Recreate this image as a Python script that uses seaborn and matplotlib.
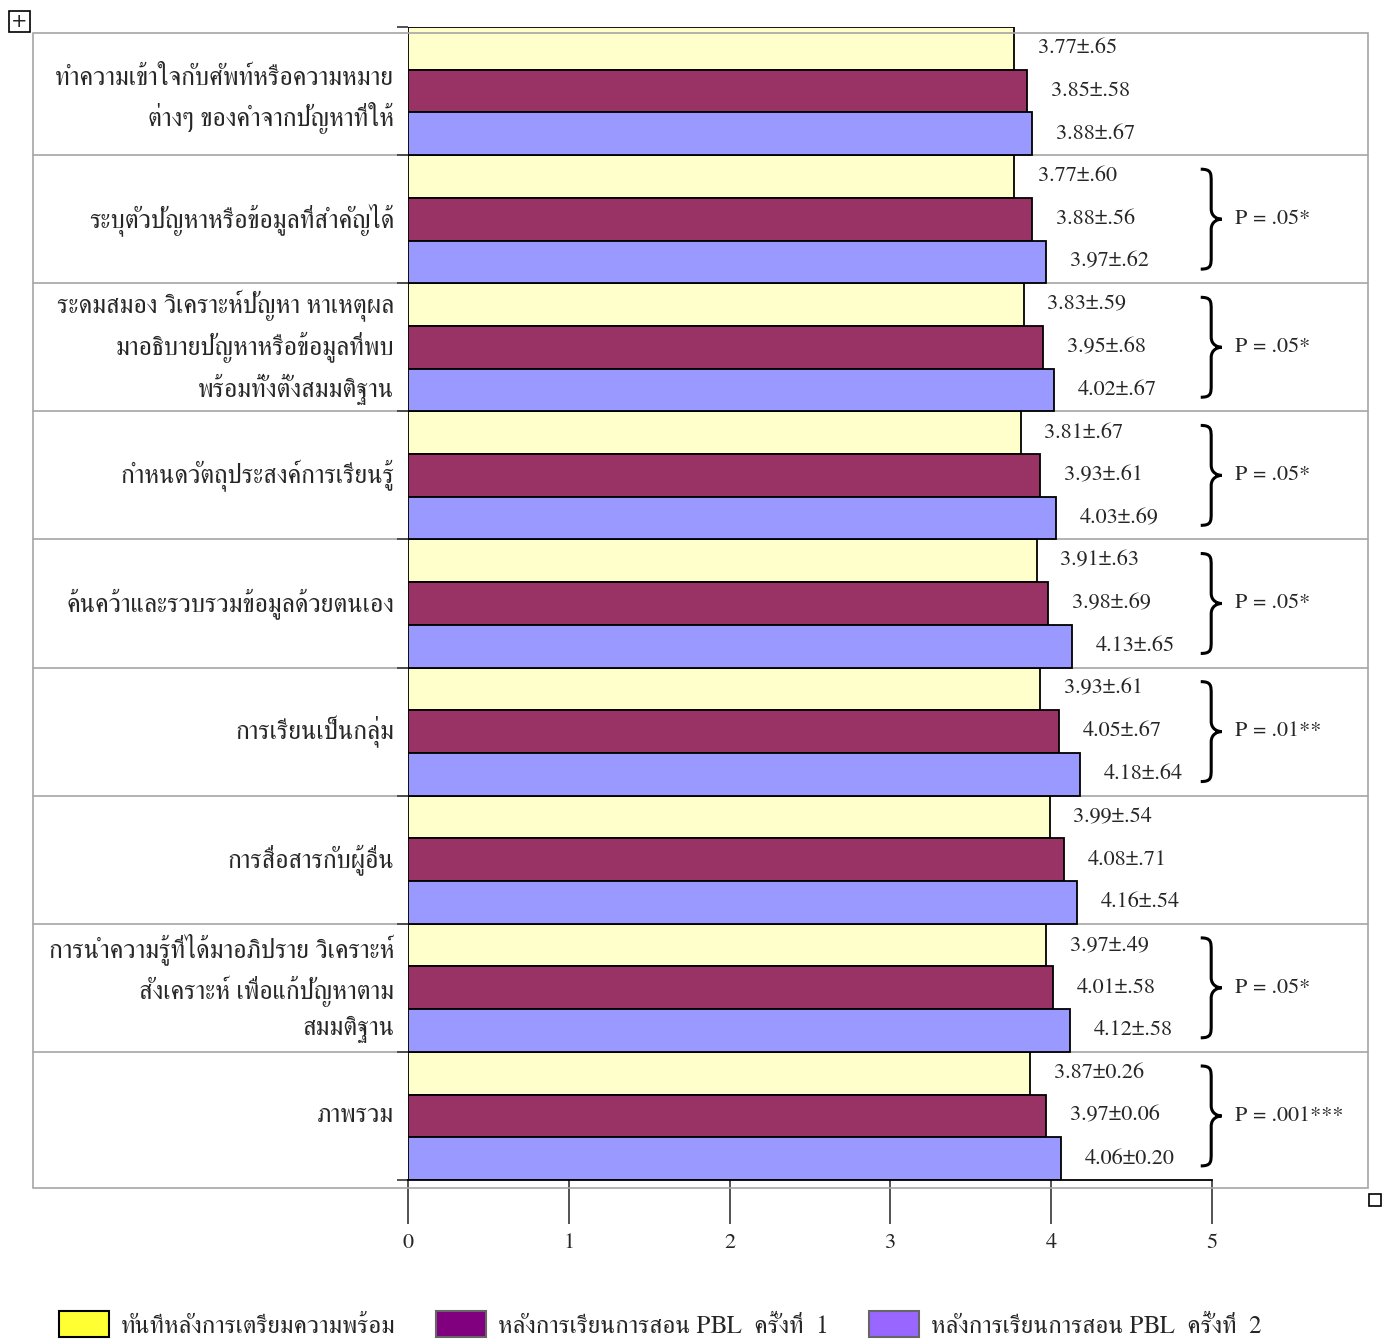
import matplotlib
matplotlib.use("Agg")
import matplotlib.pyplot as plt
from matplotlib.patches import Patch, Rectangle, PathPatch
from matplotlib.path import Path
from matplotlib.lines import Line2D
import matplotlib.transforms as mtransforms
import seaborn as sns
import pandas as pd

# ---- data ----
items = [
    "ทำความเข้าใจกับศัพท์หรือความหมาย\nต่างๆ ของคำจากปัญหาที่ให้",
    "ระบุตัวปัญหาหรือข้อมูลที่สำคัญได้",
    "ระดมสมอง วิเคราะห์ปัญหา หาเหตุผล\nมาอธิบายปัญหาหรือข้อมูลที่พบ\nพร้อมทั้งตั้งสมมติฐาน",
    "กำหนดวัตถุประสงค์การเรียนรู้",
    "ค้นคว้าและรวบรวมข้อมูลด้วยตนเอง",
    "การเรียนเป็นกลุ่ม",
    "การสื่อสารกับผู้อื่น",
    "การนำความรู้ที่ได้มาอภิปราย วิเคราะห์\nสังเคราะห์ เพื่อแก้ปัญหาตาม\nสมมติฐาน",
    "ภาพรวม",
]
series = [
    "ทันทีหลังการเตรียมความพร้อม",
    "หลังการเรียนการสอน PBL  ครั้งที่  1",
    "หลังการเรียนการสอน PBL  ครั้งที่  2",
]
mean_1 = [3.77, 3.77, 3.83, 3.81, 3.91, 3.93, 3.99, 3.97, 3.87]
mean_2 = [3.85, 3.88, 3.95, 3.93, 3.98, 4.05, 4.08, 4.01, 3.97]
mean_3 = [3.88, 3.97, 4.02, 4.03, 4.13, 4.18, 4.16, 4.12, 4.06]
sd_1 = [".65", ".60", ".59", ".67", ".63", ".61", ".54", ".49", "0.26"]
sd_2 = [".58", ".56", ".68", ".61", ".69", ".67", ".71", ".58", "0.06"]
sd_3 = [".67", ".62", ".67", ".69", ".65", ".64", ".54", ".58", "0.20"]
p_labels = [None, "P = .05*", "P = .05*", "P = .05*", "P = .05*", "P = .01**",
            None, "P = .05*", "P = .001***"]

sns.set_theme(style="white")
plt.rcParams["font.family"] = ["FreeSerif", "Noto Serif Thai", "DejaVu Sans"]

df = pd.DataFrame({
    "item": items * 3,
    "mean": mean_1 + mean_2 + mean_3,
    "series": [s for s in series for _ in items],
})

bar_colors = ["#FFFFCC", "#993366", "#9999FF"]
legend_colors = ["#FFFF33", "#800080", "#9966FF"]

W, H = 1388, 1340
fig = plt.figure(figsize=(W / 100, H / 100), dpi=100)
ax = fig.add_axes([408 / W, 1 - 1180 / H, 804 / W, 1153 / H])

sns.barplot(data=df, y="item", x="mean", hue="series", orient="h",
            palette=bar_colors, saturation=1, width=1.0, gap=0, edgecolor="black",
            linewidth=1.3, legend=False, ax=ax, zorder=2)

ax.set_xlim(0, 5)
ax.set_ylim(8.5, -0.5)
ax.set_xlabel("")
ax.set_ylabel("")
for s in ["top", "right", "left"]:
    ax.spines[s].set_visible(False)
ax.spines["bottom"].set_color("black")
ax.spines["bottom"].set_linewidth(1.3)
ax.set_xticks([0, 1, 2, 3, 4, 5])
ax.set_xticklabels(["0", "1", "2", "3", "4", "5"], fontsize=16)
ax.tick_params(axis="x", direction="out", length=32, width=1.3, color="#444444", pad=6,
               bottom=True)
ax.set_yticks(range(len(items)))
ax.set_yticklabels(items, fontsize=18.5, ha="right", va="center", linespacing=1.45)
ax.tick_params(axis="y", which="major", length=0, pad=10)
ax.set_yticks([k - 0.5 for k in range(len(items) + 1)], minor=True)
ax.tick_params(axis="y", which="minor", left=True, length=8, width=1.3, color="#444444")
# the two-line label sits a little low in the original
ax.get_yticklabels()[0].set_va("center_baseline")

# value labels
sd_all = [sd_1, sd_2, sd_3]
mean_all = [mean_1, mean_2, mean_3]
for j, cont in enumerate(ax.containers):
    labs = [f"{m:.2f}±{s}" for m, s in zip(mean_all[j], sd_all[j])]
    ax.bar_label(cont, labels=labs, padding=17, fontsize=16)

# table-like frame and row separators
bt = mtransforms.blended_transform_factory(fig.transFigure, ax.transData)
for k in range(len(items) - 1):
    ax.add_line(Line2D([33 / W, 1368 / W], [k + 0.5, k + 0.5], transform=bt,
                       color="#A6A6A6", lw=1.2, clip_on=False, zorder=0.5))
fig.add_artist(Rectangle((33 / W, 1 - 1188 / H), 1335 / W, 1155 / H, fill=False,
                         edgecolor="#A6A6A6", lw=1.2, transform=fig.transFigure))


# braces with p-values
def brace(ax, x, yc, h=0.39, w=0.13):
    xm = x + w * 0.5
    verts = [(x, yc - h),
             (xm, yc - h), (xm, yc - h + 0.03), (xm, yc - h + 0.1),
             (xm, yc - 0.08),
             (xm, yc - 0.02), (x + w * 0.8, yc), (x + w, yc),
             (x + w * 0.8, yc), (xm, yc + 0.02), (xm, yc + 0.08),
             (xm, yc + h - 0.1),
             (xm, yc + h - 0.03), (xm, yc + h), (x, yc + h)]
    codes = [Path.MOVETO, Path.CURVE4, Path.CURVE4, Path.CURVE4, Path.LINETO,
             Path.CURVE4, Path.CURVE4, Path.CURVE4, Path.CURVE4, Path.CURVE4,
             Path.CURVE4, Path.LINETO, Path.CURVE4, Path.CURVE4, Path.CURVE4]
    ax.add_patch(PathPatch(Path(verts, codes), fill=False, lw=2.2, color="black",
                           clip_on=False, zorder=3))


for i, p in enumerate(p_labels):
    if p is None:
        continue
    brace(ax, 4.93, i)
    ax.text(5.14, i, p, va="center", ha="left", fontsize=16, clip_on=False)

handles = [Patch(facecolor=c, edgecolor="black" if k == 0 else "#666666", lw=1.5)
           for k, c in enumerate(legend_colors)]
fig.legend(handles, series, loc="center left", bbox_to_anchor=(36 / W, 1 - 1325 / H), ncol=3,
           frameon=False, fontsize=18, handlelength=2.0, handleheight=1.2,
           columnspacing=1.6, handletextpad=0.5)

# word-style handle marks
fig.add_artist(Rectangle((9 / W, 1 - 32 / H), 21 / W, 21 / H, fill=False, edgecolor="black",
                         lw=1.2, transform=fig.transFigure))
fig.text(19.5 / W, 1 - 21.5 / H, "+", ha="center", va="center", fontsize=14,
         family="DejaVu Sans")
fig.add_artist(Rectangle((1369 / W, 1 - 1206 / H), 12 / W, 12 / H, fill=False,
                         edgecolor="black", lw=1.2, transform=fig.transFigure))

fig.savefig("out.png", dpi=100)
